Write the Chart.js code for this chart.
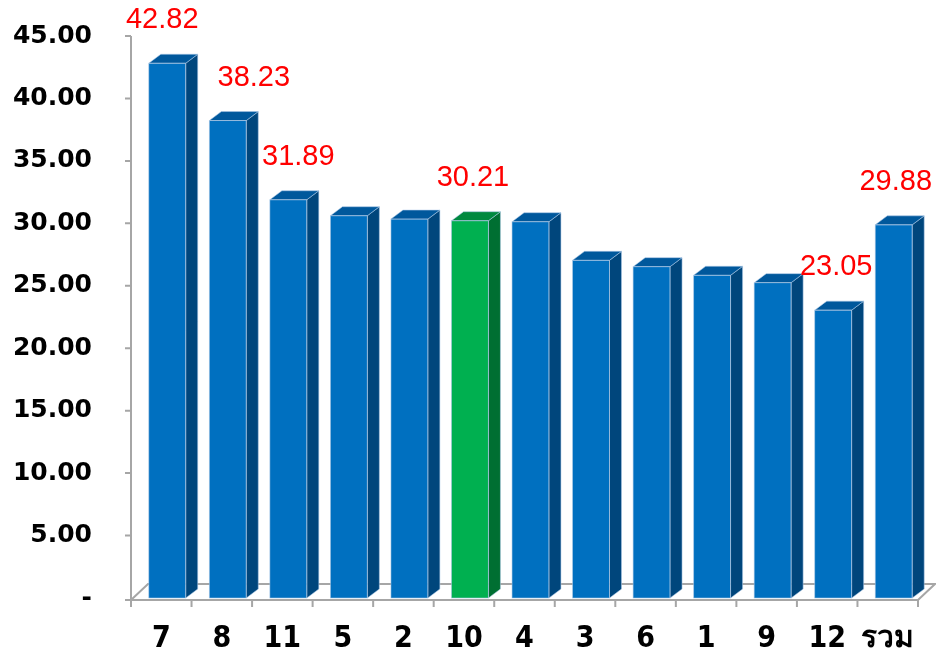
<!DOCTYPE html>
<html>
<head>
<meta charset="utf-8">
<script src="https://cdn.jsdelivr.net/npm/chart.js@4/dist/chart.umd.min.js"></script>
<style>
  html, body { margin: 0; padding: 0; background: #fff; }
  #wrap { width: 936px; height: 651px; }
</style>
</head>
<body>
<div id="wrap"><canvas id="c" width="936" height="651"></canvas></div>
<script>
// categories and values
const categories = ['7', '8', '11', '5', '2', '10', '4', '3', '6', '1', '9', '12', 'รวม'];
const values = [42.82, 38.23, 31.89, 30.61, 30.34, 30.21, 30.13, 27.04, 26.53, 25.84, 25.25, 23.05, 29.88];
const labeled = ['7', '8', '11', '10', '12', 'รวม'];
const highlight = '10';
const yTicks = [0, 5, 10, 15, 20, 25, 30, 35, 40, 45];

// label x nudges (px), like the original placement
const labelShift = { '7': -5, '8': 26, '11': 10, '10': 3, '12': 3, 'รวม': 2 };

const frontBlue = '#0070C0', sideBlue = '#00467C', topBlue = '#00589C';
const frontGreen = '#00B050', sideGreen = '#006F32', topGreen = '#00893F';
const DX = 12, DY = 9;

const fronts = categories.map(c => c === highlight ? frontGreen : frontBlue);

const bars3d = {
    id: 'bars3d',
    beforeDatasetsDraw(chart) {
        const ctx = chart.ctx;
        const y = chart.scales.y;
        const a = chart.chartArea;
        const fy = y.getPixelForValue(0) + 2;
        const by = fy - 16;
        const lx = a.left - 6, rx = a.right - 6;
        ctx.save();
        ctx.strokeStyle = '#a6a6a6';
        ctx.lineWidth = 2;
        ctx.beginPath();
        // floor
        ctx.moveTo(lx, fy); ctx.lineTo(rx, fy);
        ctx.lineTo(rx + 17, by); ctx.lineTo(lx + 17, by); ctx.lineTo(lx, fy);
        // vertical axis
        ctx.moveTo(lx, fy); ctx.lineTo(lx, y.getPixelForValue(45));
        yTicks.forEach(v => {
            const p = y.getPixelForValue(v) + (v === 0 ? 2 : 0);
            ctx.moveTo(lx - 6, p); ctx.lineTo(lx, p);
        });
        // category ticks
        const step = (a.right - a.left) / categories.length;
        for (let i = 0; i <= categories.length; i++) {
            const px = lx + i * step;
            ctx.moveTo(px, fy); ctx.lineTo(px, fy + 7);
        }
        ctx.stroke();
        ctx.restore();
    },
    afterDatasetsDraw(chart) {
        const ctx = chart.ctx;
        const meta = chart.getDatasetMeta(0);
        ctx.save();
        meta.data.forEach((bar, i) => {
            const p = bar.getProps(['x', 'y', 'base', 'width'], true);
            const l = p.x - p.width / 2, r = p.x + p.width / 2;
            const green = categories[i] === highlight;
            ctx.strokeStyle = 'rgba(170,200,230,0.7)';
            ctx.lineWidth = 0.8;
            // side
            ctx.fillStyle = green ? sideGreen : sideBlue;
            ctx.beginPath();
            ctx.moveTo(r, p.y); ctx.lineTo(r + DX, p.y - DY);
            ctx.lineTo(r + DX, p.base - DY); ctx.lineTo(r, p.base);
            ctx.closePath(); ctx.fill(); ctx.stroke();
            // top
            ctx.fillStyle = green ? topGreen : topBlue;
            ctx.beginPath();
            ctx.moveTo(l, p.y); ctx.lineTo(l + DX, p.y - DY);
            ctx.lineTo(r + DX, p.y - DY); ctx.lineTo(r, p.y);
            ctx.closePath(); ctx.fill(); ctx.stroke();
            ctx.strokeRect(l, p.y, p.width, p.base - p.y);

            // value labels
            const cat = categories[i];
            if (labeled.includes(cat)) {
                ctx.fillStyle = '#FF0000';
                ctx.font = '29px "Liberation Sans", Arial, sans-serif';
                ctx.textAlign = 'center';
                ctx.textBaseline = 'middle';
                ctx.fillText(values[i].toFixed(2), p.x + (labelShift[cat] || 0), p.y - 43);
            }
        });
        ctx.restore();
    }
};

new Chart(document.getElementById('c'), {
    type: 'bar',
    data: {
        labels: categories,
        datasets: [{
            data: values,
            backgroundColor: fronts,
            borderWidth: 0,
            categoryPercentage: 1,
            barPercentage: 0.61
        }]
    },
    options: {
        responsive: false,
        animation: false,
        layout: { autoPadding: false, padding: { left: 0, right: 12, top: 36, bottom: 0 } },
        plugins: { legend: { display: false }, tooltip: { enabled: false } },
        scales: {
            y: {
                min: 0, max: 45,
                afterFit(s) { s.width = 137; },
                afterBuildTicks(s) { s.ticks = yTicks.map(v => ({ value: v })); },
                // tick marks are hidden; tickLength only spaces the labels
                grid: { display: false, drawTicks: true, tickLength: 45 },
                border: { display: false },
                ticks: {
                    padding: 0,
                    color: '#000',
                    font: { family: '"DejaVu Sans", Verdana, sans-serif', size: 25, weight: 'bold' },
                    callback: v => v === 0 ? '-' : v.toFixed(2)
                }
            },
            x: {
                afterFit(s) { s.height = 53; },
                grid: { display: false, drawTicks: true, tickLength: 23 },
                border: { display: false },
                ticks: {
                    padding: 0,
                    labelOffset: -6,
                    maxRotation: 0,
                    color: '#000',
                    font: { family: '"DejaVu Sans Condensed", "Liberation Sans Narrow", sans-serif', size: 30, weight: 'bold' }
                }
            }
        }
    },
    plugins: [bars3d]
});
</script>
</body>
</html>
